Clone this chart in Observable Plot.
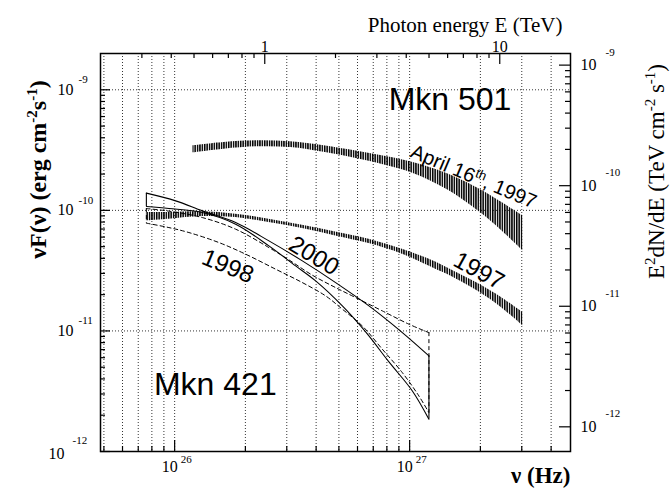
<!DOCTYPE html>
<html><head><meta charset="utf-8">
<script src="https://cdn.jsdelivr.net/npm/d3@7"></script>
<script src="https://cdn.jsdelivr.net/npm/@observablehq/plot@0.6"></script>
<style>body{margin:0;background:#fff}</style>
</head><body><div id="chart"></div>
<script>
// unit conversions for the secondary axes
const HZ_PER_TEV = 2.418e26;   // nu = E / h
const ERG_PER_TEV = 1.602;

// ---- Mkn 501, April 16th 1997 (hatched band) ----
const apr97Nu = [1.197e26, 1.621e26, 2.249e26, 3.116e26, 4.318e26, 5.991e26, 8.038e26, 1.043e27, 1.447e27, 2.005e27, 2.439e27, 3.035e27];
const apr97Hi = [3.430e-10, 3.654e-10, 3.774e-10, 3.703e-10, 3.430e-10, 3.087e-10, 2.780e-10, 2.479e-10, 2.009e-10, 1.480e-10, 1.177e-10, 9.003e-11];
const apr97Lo = [3.000e-10, 3.220e-10, 3.365e-10, 3.320e-10, 3.029e-10, 2.676e-10, 2.341e-10, 2.009e-10, 1.480e-10, 9.534e-11, 6.890e-11, 4.612e-11];

// ---- Mkn 501, 1997 (hatched band) ----
const m501Nu = [7.58e25, 9.457e25, 1.312e26, 1.818e26, 2.519e26, 3.495e26, 4.843e26, 6.712e26, 9.310e26, 1.290e27, 1.494e27, 2.005e27, 2.439e27, 3.035e27];
const m501Hi = [9.588e-11, 9.588e-11, 9.718e-11, 9.299e-11, 8.452e-11, 7.537e-11, 6.631e-11, 5.768e-11, 4.764e-11, 3.738e-11, 3.239e-11, 2.408e-11, 1.915e-11, 1.419e-11];
const m501Lo = [8.182e-11, 8.452e-11, 8.883e-11, 8.715e-11, 7.920e-11, 7.063e-11, 6.143e-11, 5.303e-11, 4.330e-11, 3.251e-11, 2.860e-11, 2.067e-11, 1.582e-11, 1.100e-11];

// ---- Mkn 421, 2000 (solid butterfly) ----
const m421y00HiNu = [7.58e25, 1.010e26, 1.312e26, 1.818e26, 2.519e26, 3.495e26, 4.843e26, 6.712e26, 9.310e26, 1.208e27];
const m421y00Hi   = [1.389e-10, 1.199e-10, 9.905e-11, 7.920e-11, 5.583e-11, 3.810e-11, 2.517e-11, 1.612e-11, 9.680e-12, 6.202e-12];
const m421y00LoNu = [7.58e25, 9.457e25, 1.312e26, 1.818e26, 2.519e26, 3.272e26, 3.981e26, 5.172e26, 6.498e26, 8.165e26, 1.027e27, 1.208e27];
const m421y00Lo   = [1.075e-10, 1.035e-10, 9.588e-11, 7.682e-11, 5.075e-11, 3.463e-11, 2.600e-11, 1.612e-11, 9.811e-12, 5.530e-12, 3.177e-12, 1.850e-12];

// ---- Mkn 421, 1998 (dashed butterfly) ----
const m421y98HiNu = [7.58e25, 9.457e25, 1.312e26, 1.818e26, 2.519e26, 3.065e26, 3.855e26, 4.843e26, 5.892e26, 7.653e26, 9.932e26, 1.208e27];
const m421y98Hi   = [1.035e-10, 9.849e-11, 8.715e-11, 6.982e-11, 4.912e-11, 3.884e-11, 2.899e-11, 2.287e-11, 1.890e-11, 1.466e-11, 1.137e-11, 9.680e-12];
const m421y98LoNu = [7.58e25, 9.457e25, 1.151e26, 1.544e26, 2.005e26, 2.690e26, 3.495e26, 4.391e26, 5.172e26, 6.288e26, 7.653e26, 9.310e26, 1.095e27, 1.208e27];
const m421y98Lo   = [7.830e-11, 7.198e-11, 6.543e-11, 5.405e-11, 4.330e-11, 3.251e-11, 2.517e-11, 1.952e-11, 1.514e-11, 1.100e-11, 7.049e-12, 4.507e-12, 2.888e-12, 2.099e-12];

// ---- annotations (anchor in data coordinates) ----
const labelText = ["Mkn 501", "Mkn 421", "April 16th, 1997", "1997", "2000", "1998"];
const labelNu   = [8.140e26, 8.165e25, 1.872e27, 1.972e27, 3.915e26, 1.684e26];
const labelFlux = [8.340e-10, 3.597e-12, 1.897e-10, 3.147e-11, 4.192e-11, 3.430e-11];

// ---- axes ----
const nuDomain = [0.2 * HZ_PER_TEV, 20 * HZ_PER_TEV];
const fluxDomain = [1e-12, 2e-9];
const nuMajor = [1e26, 1e27];
const nuMajorExp = ["26", "27"];
const nuMinor = [5e25, 6e25, 7e25, 8e25, 9e25, 2e26, 3e26, 4e26, 5e26, 6e26, 7e26, 8e26, 9e26, 2e27, 3e27, 4e27];
const fluxMajor = [1e-12, 1e-11, 1e-10, 1e-9];
const fluxMajorExp = ["-12", "-11", "-10", "-9"];
const fluxMinor = [2e-12,3e-12,4e-12,5e-12,6e-12,7e-12,8e-12,9e-12, 2e-11,3e-11,4e-11,5e-11,6e-11,7e-11,8e-11,9e-11, 2e-10,3e-10,4e-10,5e-10,6e-10,7e-10,8e-10,9e-10];
const tevMajor = [1, 10];
const tevMajorLabel = ["1", "10"];
const tevMinor = [0.3,0.4,0.5,0.6,0.7,0.8,0.9, 2,3,4,5,6,7,8,9];
const e2Major = [1e-12, 1e-11, 1e-10, 1e-9];
const e2MajorExp = ["-12", "-11", "-10", "-9"];
const e2Minor = [2e-12,3e-12,4e-12,5e-12,6e-12,7e-12,8e-12,9e-12, 2e-11,3e-11,4e-11,5e-11,6e-11,7e-11,8e-11,9e-11, 2e-10,3e-10,4e-10,5e-10,6e-10,7e-10,8e-10,9e-10];
const gridNu = [...nuMinor, ...nuMajor].sort((a, b) => a - b);
const gridFlux = [1e-11, 1e-10, 1e-9];

const band = (nu, lo, hi) => nu.map((x, i) => ({nu: x, lo: lo[i], hi: hi[i]}));
const pts = (nu, f) => nu.map((x, i) => ({nu: x, f: f[i]}));
const ends = (nuA, fA, nuB, fB) => [
  {nu: nuA[0], f1: fA[0], f2: fB[0]},
  {nu: nuA[nuA.length - 1], f1: fA[fA.length - 1], f2: fB[fB.length - 1]}
];
const lab = (i) => [{t: labelText[i], nu: labelNu[i], f: labelFlux[i]}];

const W = 672, H = 492, mL = 100, mR = 102, mT = 53, mB = 41;
const FW = W - mL - mR, FH = H - mT - mB;
const SERIF = "Liberation Serif, Times New Roman, serif";
const SANS = "Liberation Sans, Arial, Helvetica, sans-serif";

const plot = Plot.plot({
  width: W, height: H,
  marginLeft: mL, marginRight: mR, marginTop: mT, marginBottom: mB,
  x: {type: "log", domain: nuDomain, axis: null},
  y: {type: "log", domain: fluxDomain, axis: null},
  style: {background: "#fff", overflow: "visible"},
  marks: [
    // grid
    Plot.ruleX(gridNu, {x: d => d, stroke: "#000", strokeWidth: 0.8, strokeDasharray: "1,2"}),
    Plot.ruleY(gridFlux, {y: d => d, stroke: "#000", strokeWidth: 0.8, strokeDasharray: "1,2"}),
    // hatched bands
    Plot.areaY(band(m501Nu, m501Lo, m501Hi), {x: "nu", y1: "lo", y2: "hi", fill: "url(#vhatch)", curve: "catmull-rom"}),
    Plot.areaY(band(apr97Nu, apr97Lo, apr97Hi), {x: "nu", y1: "lo", y2: "hi", fill: "url(#vhatch)", curve: "catmull-rom"}),
    // Mkn 421 2000 (solid)
    Plot.line(pts(m421y00HiNu, m421y00Hi), {x: "nu", y: "f", stroke: "#000", strokeWidth: 1.1, curve: "catmull-rom"}),
    Plot.line(pts(m421y00LoNu, m421y00Lo), {x: "nu", y: "f", stroke: "#000", strokeWidth: 1.1, curve: "catmull-rom"}),
    Plot.ruleX(ends(m421y00HiNu, m421y00Hi, m421y00LoNu, m421y00Lo), {x: "nu", y1: "f1", y2: "f2", stroke: "#000", strokeWidth: 1.1}),
    // Mkn 421 1998 (dashed)
    Plot.line(pts(m421y98HiNu, m421y98Hi), {x: "nu", y: "f", stroke: "#000", strokeWidth: 1, strokeDasharray: "4,3", curve: "catmull-rom"}),
    Plot.line(pts(m421y98LoNu, m421y98Lo), {x: "nu", y: "f", stroke: "#000", strokeWidth: 1, strokeDasharray: "4,3", curve: "catmull-rom"}),
    Plot.ruleX(ends(m421y98HiNu, m421y98Hi, m421y98LoNu, m421y98Lo), {x: "nu", y1: "f1", y2: "f2", stroke: "#000", strokeWidth: 1, strokeDasharray: "4,3"}),
    // frame
    Plot.frame({stroke: "#000", strokeWidth: 1.5}),
    // bottom ticks (nu)
    Plot.tickX(nuMajor, {x: d => d, insetTop: FH - 11, stroke: "#000", strokeWidth: 1.2}),
    Plot.tickX(nuMinor, {x: d => d, insetTop: FH - 5, stroke: "#000", strokeWidth: 1.2}),
    // top ticks (E in TeV)
    Plot.tickX(tevMajor, {x: d => d * HZ_PER_TEV, insetBottom: FH - 11, stroke: "#000", strokeWidth: 1.2}),
    Plot.tickX(tevMinor, {x: d => d * HZ_PER_TEV, insetBottom: FH - 5, stroke: "#000", strokeWidth: 1.2}),
    // left ticks
    Plot.tickY(fluxMajor, {y: d => d, insetRight: FW - 10, stroke: "#000", strokeWidth: 1.2}),
    Plot.tickY(fluxMinor, {y: d => d, insetRight: FW - 5, stroke: "#000", strokeWidth: 1.2}),
    // right ticks (TeV cm-2 s-1)
    Plot.tickY(e2Major, {y: d => d * ERG_PER_TEV, insetLeft: FW - 11, stroke: "#000", strokeWidth: 1.2}),
    Plot.tickY(e2Minor, {y: d => d * ERG_PER_TEV, insetLeft: FW - 5, stroke: "#000", strokeWidth: 1.2}),
    // left tick labels
    Plot.text(fluxMajor.slice(1), {y: d => d, frameAnchor: "left", text: () => "10", dx: -27, textAnchor: "end", fontSize: 16, fontFamily: SERIF}),
    Plot.text(fluxMajor.slice(1), {y: d => d, frameAnchor: "left", text: (d, i) => fluxMajorExp[i + 1], dx: -22, dy: -10, textAnchor: "start", fontSize: 11, fontFamily: SERIF}),
    Plot.text(fluxMajor.slice(0, 1), {y: d => d, frameAnchor: "left", text: () => "10", dx: -36, dy: 2, textAnchor: "end", fontSize: 16, fontFamily: SERIF}),
    Plot.text(fluxMajor.slice(0, 1), {y: d => d, frameAnchor: "left", text: () => fluxMajorExp[0], dx: -28, dy: -11, textAnchor: "start", fontSize: 11, fontFamily: SERIF}),
    // right tick labels
    Plot.text(e2Major, {y: d => d * ERG_PER_TEV, frameAnchor: "right", text: () => "10", dx: 10, textAnchor: "start", fontSize: 16, fontFamily: SERIF}),
    Plot.text(e2Major, {y: d => d * ERG_PER_TEV, frameAnchor: "right", text: (d, i) => e2MajorExp[i], dx: 35, dy: -13, textAnchor: "start", fontSize: 11, fontFamily: SERIF}),
    // bottom tick labels
    Plot.text(nuMajor, {x: d => d, frameAnchor: "bottom", text: () => "10", dx: 3, dy: 20, textAnchor: "end", fontSize: 16, fontFamily: SERIF}),
    Plot.text(nuMajor, {x: d => d, frameAnchor: "bottom", text: (d, i) => nuMajorExp[i], dx: 6, dy: 11, textAnchor: "start", fontSize: 11, fontFamily: SERIF}),
    // top tick labels
    Plot.text(tevMajor, {x: d => d * HZ_PER_TEV, frameAnchor: "top", text: (d, i) => tevMajorLabel[i], dy: -13, fontSize: 16, fontFamily: SERIF}),
    // axis titles
    Plot.text(["Photon energy E (TeV)"], {frameAnchor: "top-right", text: d => d, dx: -8, dy: -36, textAnchor: "end", fontSize: 21, fontFamily: SERIF}),
    Plot.text(["ν (Hz)"], {frameAnchor: "bottom-right", text: d => d, dy: 31, textAnchor: "end", fontSize: 23, fontWeight: "bold", fontFamily: SERIF}),
    Plot.text(["LEFTTITLE"], {frameAnchor: "top-left", text: d => d, dx: -72, dy: 116, rotate: -90, textAnchor: "middle", fontSize: 24, fontWeight: "bold", fontFamily: SERIF}),
    Plot.text(["RIGHTTITLE"], {frameAnchor: "top-right", text: d => d, dx: 77, dy: 118, rotate: -90, textAnchor: "middle", fontSize: 23, fontFamily: SERIF}),
    // annotations
    Plot.text(lab(0), {x: "nu", y: "f", text: "t", textAnchor: "start", fontSize: 32, fontFamily: SANS}),
    Plot.text(lab(1), {x: "nu", y: "f", text: "t", textAnchor: "start", fontSize: 32, fontFamily: SANS}),
    Plot.text(lab(2), {x: "nu", y: "f", text: "t", textAnchor: "middle", rotate: 23, fontSize: 20, fontFamily: SANS}),
    Plot.text(lab(3), {x: "nu", y: "f", text: "t", textAnchor: "middle", rotate: 28.6, fontSize: 24, fontFamily: SANS}),
    Plot.text(lab(4), {x: "nu", y: "f", text: "t", textAnchor: "middle", rotate: 31, fontSize: 24, fontFamily: SANS}),
    Plot.text(lab(5), {x: "nu", y: "f", text: "t", textAnchor: "middle", rotate: 22.6, fontSize: 24, fontFamily: SANS})
  ]
});

// hatch pattern (vertical lines) for the Mkn 501 bands
const svg = d3.select(plot);
const pat = svg.insert("defs", ":first-child").append("pattern")
  .attr("id", "vhatch").attr("patternUnits", "userSpaceOnUse")
  .attr("width", 2.4).attr("height", 10);
pat.append("rect").attr("width", 1.5).attr("height", 10).attr("fill", "#000");

// superscripts inside real text
function rich(content, html) {
  svg.selectAll("text").filter(function () { return this.textContent === content; }).html(html);
}
const up = (s, size) => `<tspan dy="-9" font-size="${size}">${s}</tspan>`;
rich("April 16th, 1997", `April 16<tspan dy="-7" font-size="13">th</tspan><tspan dy="7">, 1997</tspan>`);
rich("LEFTTITLE", `νF(ν) (erg cm${up("-2", 15)}<tspan dy="9">s</tspan>${up("-1", 15)}<tspan dy="9">)</tspan>`);
rich("RIGHTTITLE", `E${up("2", 15)}<tspan dy="9">dN/dE (TeV cm</tspan>${up("-2", 15)}<tspan dy="9"> s</tspan>${up("-1", 15)}<tspan dy="9">)</tspan>`);

document.getElementById("chart").appendChild(plot);
</script>
</body></html>
